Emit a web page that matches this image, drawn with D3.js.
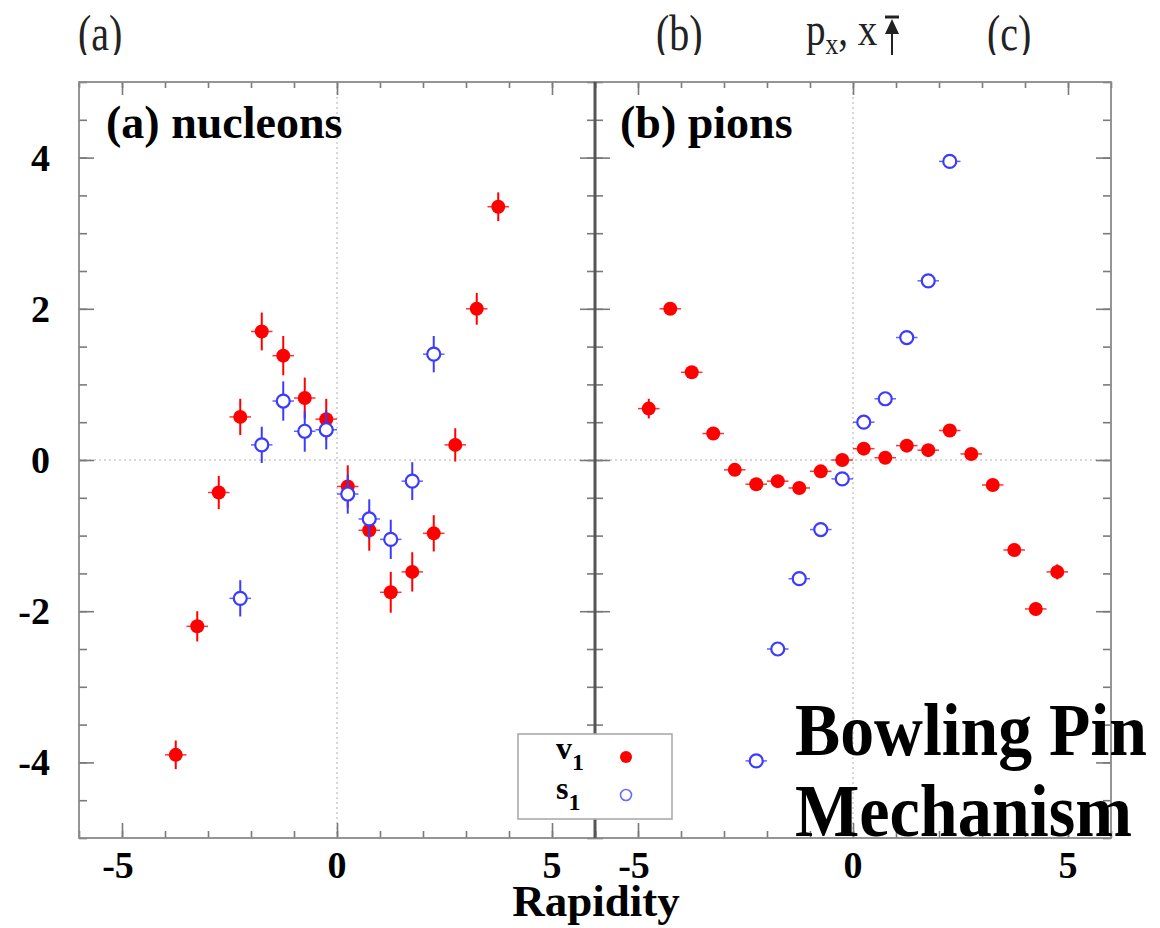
<!DOCTYPE html>
<html>
<head>
<meta charset="utf-8">
<script src="https://cdn.jsdelivr.net/npm/d3@7"></script>
<style>
  body { margin: 0; background: #fff; }
  svg { display: block; }
</style>
</head>
<body>
<svg id="chart" width="1160" height="928"></svg>
<script>
// Directed flow v1 and s1 vs rapidity, nucleons (a) and pions (b)

const
  serif = "'Liberation Serif', 'Times New Roman', serif",
  red = '#ff0000',
  blue = '#3b3bff',
  frameColor = '#8a8a8a',
  tickColor = '#7a7a7a',
  xHalfWidth = 0.25;        // horizontal error bar = half of the rapidity bin

// =====================
// Data
// =====================
// (a) nucleons
const nucRapV1 = [-3.75, -3.25, -2.75, -2.25, -1.75, -1.25, -0.75, -0.25, 0.25, 0.75, 1.25, 1.75, 2.25, 2.75, 3.25, 3.75];
const nucV1    = [-3.9, -2.2, -0.43, 0.57, 1.7, 1.38, 0.82, 0.54, -0.35, -0.93, -1.75, -1.48, -0.97, 0.2, 2.0, 3.35];
const nucV1Err = [0.19, 0.2, 0.22, 0.24, 0.25, 0.26, 0.27, 0.27, 0.28, 0.27, 0.27, 0.26, 0.24, 0.22, 0.21, 0.19];

const nucRapS1 = [-2.25, -1.75, -1.25, -0.75, -0.25, 0.25, 0.75, 1.25, 1.75, 2.25];
const nucS1    = [-1.83, 0.2, 0.78, 0.38, 0.4, -0.45, -0.78, -1.05, -0.28, 1.4];
const nucS1Err = [0.24, 0.24, 0.26, 0.27, 0.26, 0.26, 0.26, 0.26, 0.25, 0.24];

// (b) pions
const pionRapV1 = [-4.75, -4.25, -3.75, -3.25, -2.75, -2.25, -1.75, -1.25, -0.75, -0.25, 0.25, 0.75, 1.25, 1.75, 2.25, 2.75, 3.25, 3.75, 4.25, 4.75];
const pionV1    = [0.68, 2.0, 1.16, 0.35, -0.13, -0.32, -0.28, -0.37, -0.15, 0.0, 0.15, 0.03, 0.19, 0.13, 0.39, 0.08, -0.33, -1.19, -1.97, -1.48];
const pionV1Err = [0.13, 0.08, 0.07, 0.06, 0.06, 0.06, 0.06, 0.06, 0.06, 0.06, 0.06, 0.06, 0.06, 0.06, 0.06, 0.06, 0.06, 0.07, 0.09, 0.1];

const pionRapS1 = [-2.25, -1.75, -1.25, -0.75, -0.25, 0.25, 0.75, 1.25, 1.75, 2.25];
const pionS1    = [-3.98, -2.5, -1.57, -0.92, -0.25, 0.5, 0.81, 1.62, 2.37, 3.95];
const pionS1Err = [0.05, 0.05, 0.05, 0.05, 0.05, 0.05, 0.05, 0.05, 0.05, 0.05];

// Tick labels
const xTickLabels = [-5, 0, 5];
const yTickLabels = [4, 2, 0, -2, -4];
const panelLabels = ['(a) nucleons', '(b) pions'];

// =====================
// Scales
// =====================
const xDomain = [-6, 6],
      yDomain = [-5, 5];
const xA = d3.scaleLinear(xDomain, [79, 595]),
      xB = d3.scaleLinear(xDomain, [595, 1111]),
      y  = d3.scaleLinear(yDomain, [838, 82]);

const svg = d3.select('#chart');

const panels = [
  { x: xA, label: panelLabels[0], labelX: 106,
    v1x: nucRapV1, v1: nucV1, v1e: nucV1Err, s1x: nucRapS1, s1: nucS1, s1e: nucS1Err },
  { x: xB, label: panelLabels[1], labelX: 620,
    v1x: pionRapV1, v1: pionV1, v1e: pionV1Err, s1x: pionRapS1, s1: pionS1, s1e: pionS1Err }
];

// =====================
// Header strip (cut from the figure above)
// =====================
svg.append('clipPath').attr('id', 'topclip')
  .append('rect').attr('x', 0).attr('y', 0).attr('width', 1160).attr('height', 55);

const head = svg.append('g').attr('clip-path', 'url(#topclip)')
  .style('font-family', serif).style('fill', '#222');

[['(a)', 78], ['(b)', 656], ['(c)', 987]].forEach(([t, px]) => {
  head.append('text')
    .attr('transform', 'translate(' + px + ',50) scale(0.8,1)')
    .style('font-size', '50px')
    .text(t);
});

const pxText = head.append('text')
  .attr('transform', 'translate(806,45) scale(0.85,1)')
  .style('font-size', '46px');
pxText.append('tspan').text('p');
pxText.append('tspan').attr('dy', 9).style('font-size', '30px').text('x');
pxText.append('tspan').attr('dy', -9).text(', x');

// arrow to bar
head.append('line').attr('x1', 892).attr('x2', 892).attr('y1', 30).attr('y2', 60)
  .attr('stroke', '#222').attr('stroke-width', 2);
head.append('path').attr('d', 'M892,19 L885,34 L899,34 Z').attr('fill', '#222');
head.append('line').attr('x1', 885).attr('x2', 899).attr('y1', 17).attr('y2', 17)
  .attr('stroke', '#222').attr('stroke-width', 3);

// =====================
// Panels
// =====================
function styleAxis(g) {
  g.select('.domain').remove();
  g.selectAll('line').attr('stroke', tickColor).attr('stroke-width', 1.6);
}

panels.forEach(p => {
  const x = p.x;
  const g = svg.append('g');

  // zero lines
  g.append('line')
    .attr('x1', x(0)).attr('x2', x(0)).attr('y1', y(5)).attr('y2', y(-5))
    .attr('stroke', '#b0b0b0').attr('stroke-width', 1).attr('stroke-dasharray', '2,3');
  g.append('line')
    .attr('x1', x(-6)).attr('x2', x(6)).attr('y1', y(0)).attr('y2', y(0))
    .attr('stroke', '#b0b0b0').attr('stroke-width', 1).attr('stroke-dasharray', '2,3');

  // ticks (inward)
  const xMinor = d3.range(-6, 7), xMajor = [-5, 0, 5];
  const yMinor = d3.range(-5, 5.01, 0.5), yMajor = [-4, -2, 0, 2, 4];

  g.append('g').attr('transform', 'translate(0,' + y(-5) + ')')
    .call(d3.axisBottom(x).tickValues(xMinor).tickSize(-7).tickSizeOuter(0).tickFormat('')).call(styleAxis);
  g.append('g').attr('transform', 'translate(0,' + y(-5) + ')')
    .call(d3.axisBottom(x).tickValues(xMajor).tickSize(-15).tickSizeOuter(0).tickFormat('')).call(styleAxis);
  g.append('g').attr('transform', 'translate(0,' + y(5) + ')')
    .call(d3.axisTop(x).tickValues(xMinor).tickSize(-6).tickSizeOuter(0).tickFormat('')).call(styleAxis);
  g.append('g').attr('transform', 'translate(0,' + y(5) + ')')
    .call(d3.axisTop(x).tickValues(xMajor).tickSize(-13).tickSizeOuter(0).tickFormat('')).call(styleAxis);
  g.append('g').attr('transform', 'translate(' + x(-6) + ',0)')
    .call(d3.axisLeft(y).tickValues(yMinor).tickSize(-8).tickSizeOuter(0).tickFormat('')).call(styleAxis);
  g.append('g').attr('transform', 'translate(' + x(-6) + ',0)')
    .call(d3.axisLeft(y).tickValues(yMajor).tickSize(-15).tickSizeOuter(0).tickFormat('')).call(styleAxis);
  g.append('g').attr('transform', 'translate(' + x(6) + ',0)')
    .call(d3.axisRight(y).tickValues(yMinor).tickSize(-8).tickSizeOuter(0).tickFormat('')).call(styleAxis);
  g.append('g').attr('transform', 'translate(' + x(6) + ',0)')
    .call(d3.axisRight(y).tickValues(yMajor).tickSize(-15).tickSizeOuter(0).tickFormat('')).call(styleAxis);

  // frame
  g.append('rect')
    .attr('x', x(-6)).attr('y', y(5))
    .attr('width', x(6) - x(-6)).attr('height', y(-5) - y(5))
    .attr('fill', 'none').attr('stroke', frameColor).attr('stroke-width', 1.8);

  // x tick labels
  g.selectAll('text.xl').data(xTickLabels).enter().append('text')
    .attr('class', 'xl')
    .attr('x', d => x(d) - (d < 0 ? 4 : 0))
    .attr('y', 878)
    .attr('text-anchor', 'middle')
    .style('font-family', serif).style('font-weight', 'bold').style('font-size', '38px')
    .text(d => d);

  // panel label
  g.append('text')
    .attr('x', p.labelX).attr('y', 138)
    .style('font-family', serif).style('font-weight', 'bold').style('font-size', '46px')
    .text(p.label);

  // points with error bars
  const v1 = p.v1x.map((r, i) => ({ r: r, v: p.v1[i], e: p.v1e[i] }));
  const s1 = p.s1x.map((r, i) => ({ r: r, v: p.s1[i], e: p.s1e[i] }));

  function errBars(data, color) {
    g.selectAll(null).data(data).enter().append('line')
      .attr('x1', d => x(d.r)).attr('x2', d => x(d.r))
      .attr('y1', d => y(d.v - d.e)).attr('y2', d => y(d.v + d.e))
      .attr('stroke', color).attr('stroke-width', 2);
    g.selectAll(null).data(data).enter().append('line')
      .attr('x1', d => x(d.r - xHalfWidth)).attr('x2', d => x(d.r + xHalfWidth))
      .attr('y1', d => y(d.v)).attr('y2', d => y(d.v))
      .attr('stroke', color).attr('stroke-width', 1.5).attr('stroke-opacity', 0.8);
  }

  errBars(v1, red);
  g.selectAll(null).data(v1).enter().append('circle')
    .attr('cx', d => x(d.r)).attr('cy', d => y(d.v)).attr('r', 7)
    .attr('fill', red);

  errBars(s1, blue);
  g.selectAll(null).data(s1).enter().append('circle')
    .attr('cx', d => x(d.r)).attr('cy', d => y(d.v)).attr('r', 6.5)
    .attr('fill', '#fff').attr('stroke', blue).attr('stroke-width', 2.2);
});

// dark divider between panels
svg.append('line')
  .attr('x1', xA(6)).attr('x2', xA(6)).attr('y1', y(5)).attr('y2', y(-5))
  .attr('stroke', '#555').attr('stroke-width', 3);

// y tick labels
svg.selectAll('text.yl').data(yTickLabels).enter().append('text')
  .attr('class', 'yl')
  .attr('x', 50).attr('y', d => y(d) + 13)
  .attr('text-anchor', 'end')
  .style('font-family', serif).style('font-weight', 'bold').style('font-size', '38px')
  .text(d => d);

// axis title
svg.append('text')
  .attr('x', 596).attr('y', 916)
  .attr('text-anchor', 'middle')
  .style('font-family', serif).style('font-weight', 'bold').style('font-size', '45px')
  .text('Rapidity');

// =====================
// Legend
// =====================
const legend = svg.append('g');
legend.append('rect')
  .attr('x', 518).attr('y', 734).attr('width', 154).attr('height', 85)
  .attr('fill', '#fff').attr('stroke', '#aaa').attr('stroke-width', 1.6);

[['v', 759], ['s', 799]].forEach(([t, by]) => {
  const tx = legend.append('text')
    .attr('x', 556).attr('y', by)
    .style('font-family', serif).style('font-weight', 'bold').style('font-size', '32px');
  tx.append('tspan').text(t);
  tx.append('tspan').attr('dy', 11).style('font-size', '24px').text('1');
});
legend.append('circle').attr('cx', 626).attr('cy', 757).attr('r', 6).attr('fill', red);
legend.append('circle').attr('cx', 626).attr('cy', 795).attr('r', 5.5)
  .attr('fill', '#fff').attr('stroke', '#6a6aff').attr('stroke-width', 1.6);

// =====================
// Caption
// =====================
svg.append('text')
  .attr('x', 795).attr('y', 755)
  .attr('textLength', 352).attr('lengthAdjust', 'spacingAndGlyphs')
  .style('font-family', serif).style('font-weight', 'bold').style('font-size', '74px')
  .text('Bowling Pin');
svg.append('text')
  .attr('x', 795).attr('y', 836)
  .attr('textLength', 337).attr('lengthAdjust', 'spacingAndGlyphs')
  .style('font-family', serif).style('font-weight', 'bold').style('font-size', '74px')
  .text('Mechanism');
</script>
</body>
</html>
